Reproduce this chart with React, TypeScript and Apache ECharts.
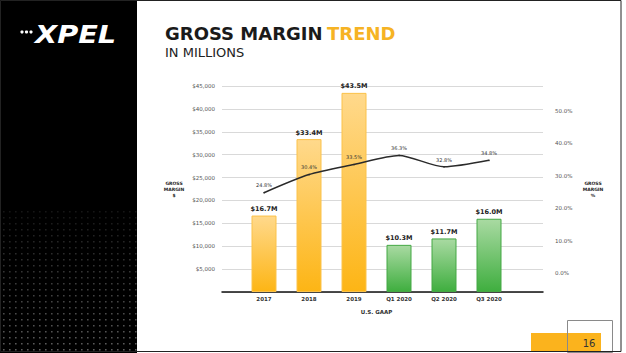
import React, { useEffect, useRef } from "react";
import * as echarts from "echarts";

const categories = ["2017", "2018", "2019", "Q1 2020", "Q2 2020", "Q3 2020"];
const grossMargin = [16700, 33400, 43500, 10300, 11700, 16000];
const marginPct = [24.8, 30.4, 33.5, 36.3, 32.8, 34.8];
const periodType = ["annual", "annual", "annual", "quarter", "quarter", "quarter"];
const pctTicks = [0, 10, 20, 30, 40, 50];

const FONT = "DejaVu Sans";

function buildDots() {
  const out: any[] = [];
  for (let r = 0; r < 24; r++) {
    const y = 211 + r * 6;
    if (y > 349) break;
    const t = r / 23;
    const g = Math.round(22 + t * 70);
    const c = `rgb(${g},${g},${g})`;
    for (let cI = 0; cI < 23; cI++) {
      const x = 3 + cI * 6;
      out.push({ type: "rect", silent: true, shape: { x, y, width: 1.6, height: 1.6 }, style: { fill: c } });
    }
  }
  return out;
}

export default function App() {
  const ref = useRef<HTMLDivElement>(null);
  useEffect(() => {
    if (!ref.current) return;
    const chart = echarts.init(ref.current, null, { renderer: "svg" });
    const orange = new echarts.graphic.LinearGradient(0, 0, 0, 1, [
      { offset: 0, color: "#FFD98C" },
      { offset: 1, color: "#FDB515" },
    ]);
    const green = new echarts.graphic.LinearGradient(0, 0, 0, 1, [
      { offset: 0, color: "#A9DAA2" },
      { offset: 1, color: "#3FAE3F" },
    ]);
    const barData = grossMargin.map((v, i) => ({
      value: v,
      itemStyle: {
        color: periodType[i] === "annual" ? orange : green,
        borderColor: periodType[i] === "annual" ? "#FBC24A" : "#45A845",
        borderWidth: 1,
      },
    }));
    const axisLabelStyle = { fontFamily: FONT, fontSize: 5.5, color: "#555" };
    chart.setOption({
      animation: false,
      backgroundColor: "#ffffff",
      textStyle: { fontFamily: FONT },
      grid: [
        { left: 222, right: 83, top: 86, bottom: 61 },
        { left: 241.5, right: 114.5, top: 86, bottom: 61 },
      ],
      xAxis: [
        {
          gridIndex: 0,
          type: "value",
          min: 0,
          max: 1,
          axisLabel: { show: false },
          axisTick: { show: false },
          splitLine: { show: false },
          axisLine: { show: true, onZero: false, lineStyle: { color: "#111", width: 1.5 } },
        },
        {
          gridIndex: 1,
          type: "category",
          data: categories,
          axisLine: { show: false },
          axisTick: { show: false },
          axisLabel: { fontFamily: FONT, fontSize: 5.5, fontWeight: "bold", color: "#333", margin: 4 },
          name: "U.S. GAAP",
          nameLocation: "middle",
          nameGap: 17,
          nameTextStyle: { fontFamily: FONT, fontSize: 5.5, fontWeight: "bold", color: "#333" },
        },
      ],
      yAxis: [
        {
          gridIndex: 0,
          type: "value",
          position: "left",
          min: 0,
          max: 45000,
          interval: 5000,
          axisLine: { show: false },
          axisTick: { show: false },
          splitLine: { show: true, lineStyle: { color: "#D9D9D9", width: 1 } },
          axisLabel: {
            ...axisLabelStyle,
            margin: 7,
            formatter: (v: number) => (v === 0 ? "" : "$" + v.toLocaleString("en-US")),
          },
          name: "GROSS\nMARGIN\n$",
          nameLocation: "middle",
          nameRotate: 0,
          nameGap: 48,
          nameTextStyle: { fontFamily: FONT, fontSize: 4.5, fontWeight: "bold", color: "#222", lineHeight: 6, align: "center" },
        },
        {
          gridIndex: 0,
          type: "value",
          position: "right",
          min: -5.8,
          max: 57.7,
          axisLine: { show: false },
          axisTick: { show: false },
          splitLine: { show: false },
          axisLabel: {
            ...axisLabelStyle,
            margin: 12,
            customValues: pctTicks,
            formatter: (v: number) => v.toFixed(1) + "%",
          },
          name: "GROSS\nMARGIN\n%",
          nameLocation: "middle",
          nameRotate: 0,
          nameGap: 50,
          nameTextStyle: { fontFamily: FONT, fontSize: 4.5, fontWeight: "bold", color: "#222", lineHeight: 6, align: "center" },
        },
        {
          gridIndex: 1,
          type: "value",
          min: 0,
          max: 45000,
          show: false,
        },
        {
          gridIndex: 1,
          type: "value",
          min: -5.8,
          max: 57.7,
          show: false,
        },
      ],
      series: [
        {
          type: "bar",
          xAxisIndex: 1,
          yAxisIndex: 2,
          barWidth: 25,
          data: barData,
          label: {
            show: true,
            position: "top",
            distance: 3,
            fontFamily: FONT,
            fontSize: 6.5,
            fontWeight: "bold",
            color: "#222",
            formatter: (p: any) => "$" + (p.value / 1000).toFixed(1) + "M",
          },
        },
        {
          type: "line",
          xAxisIndex: 1,
          yAxisIndex: 3,
          data: marginPct,
          smooth: 0.25,
          symbol: "circle",
          symbolSize: 1.5,
          showSymbol: true,
          itemStyle: { color: "#2A2A2A" },
          lineStyle: { color: "#2A2A2A", width: 1.5 },
          label: {
            show: true,
            position: "top",
            distance: 4,
            fontFamily: FONT,
            fontSize: 5,
            color: "#333",
            formatter: (p: any) => Number(p.value).toFixed(1) + "%",
          },
        },
      ],
      graphic: [
        { type: "rect", silent: true, shape: { x: 0, y: 0, width: 137, height: 353 }, style: { fill: "#000" } },
        ...buildDots(),
        { type: "circle", shape: { cx: 22, cy: 32, r: 1.6 }, style: { fill: "#fff" } },
        { type: "circle", shape: { cx: 26.5, cy: 32, r: 1.6 }, style: { fill: "#fff" } },
        { type: "circle", shape: { cx: 31, cy: 32, r: 1.6 }, style: { fill: "#fff" } },
        {
          type: "text",
          x: 35,
          y: 34,
          scaleX: 1.15,
          style: {
            text: "XPEL",
            fill: "#fff",
            font: "italic bold 25px 'DejaVu Sans'",
            verticalAlign: "middle",
            align: "left",
          },
        },
        {
          type: "text",
          x: 165,
          y: 33.5,
          style: {
            text: "GROSS MARGIN",
            fill: "#1a1a1a",
            font: "bold 18px 'DejaVu Sans'",
            verticalAlign: "middle",
          },
        },
        {
          type: "text",
          x: 327,
          y: 33.5,
          style: {
            text: "TREND",
            fill: "#F6B324",
            font: "bold 18px 'DejaVu Sans'",
            verticalAlign: "middle",
          },
        },
        {
          type: "text",
          x: 165,
          y: 52,
          style: {
            text: "IN MILLIONS",
            fill: "#222",
            font: "13px 'DejaVu Sans'",
            verticalAlign: "middle",
          },
        },
        { type: "rect", silent: true, shape: { x: 531, y: 333, width: 70, height: 19 }, style: { fill: "#FBB31D" } },
        { type: "rect", silent: true, shape: { x: 567.5, y: 320.5, width: 45, height: 32 }, style: { fill: "none", stroke: "#8a8a8a", lineWidth: 1 } },
        {
          type: "text",
          x: 589,
          y: 343,
          style: { text: "16", fill: "#333", font: "10px 'DejaVu Sans'", align: "center", verticalAlign: "middle" },
        },
        { type: "rect", silent: true, shape: { x: 0.5, y: 0.5, width: 620.5, height: 351 }, style: { fill: "none", stroke: "#222", lineWidth: 1 } },
      ],
    });
    return () => chart.dispose();
  }, []);
  return <div ref={ref} style={{ position: "fixed", left: 0, top: 0, width: 626, height: 353 }} />;
}
